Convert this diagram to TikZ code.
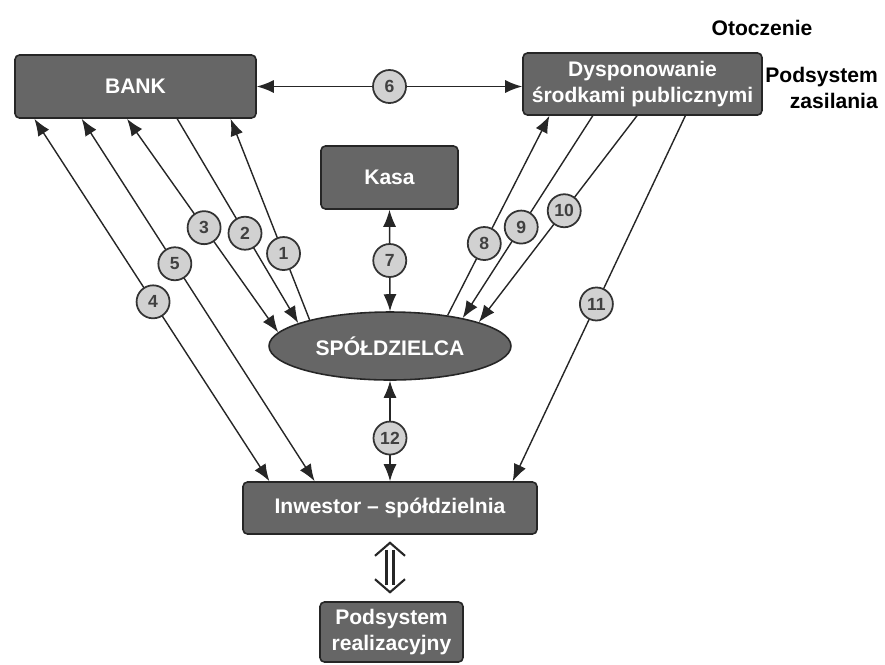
\documentclass[tikz,border=0pt]{standalone}
\usepackage{fontspec}
\setmainfont{Liberation Sans}
\usetikzlibrary{calc}
\usetikzlibrary{arrows.meta}
\usetikzlibrary{shapes.geometric}
\def\thickness{thick}
\newcommand{\boxfont}{\fontsize{12}{14.5}\selectfont\bfseries}
\newcommand{\numfont}{\fontsize{10}{12}\selectfont\bfseries}
\tikzset{
box/.style={draw=black!85, fill=black!60, rounded corners=2.5pt, line width=0.9pt,
	text=white, font=\boxfont, align=center, inner sep=0pt},
num/.style={circle, draw=black!80, fill=black!18, line width=1pt,
	minimum size=0.66cm, inner sep=0pt, font=\numfont, text=black!75},
onearrow/.style={\thickness, draw=black!85, -{Latex[length=0.34cm,width=0.26cm]}},
twoarrow/.style={\thickness, draw=black!85, {Latex[length=0.34cm,width=0.26cm]}-{Latex[length=0.34cm,width=0.26cm]}},
hollowline/.style={draw=black!85, line width=1.2pt},
}

\begin{document}
\begin{tikzpicture}[x=0.02cm, y=-0.02cm]
\useasboundingbox (0,0) rectangle (885,664);
%Place the nodes
\node[box, minimum width=4.82cm, minimum height=1.26cm] (bank) at (135.5,86.5) {BANK};
\node[box, minimum width=4.78cm, minimum height=1.24cm] (dysp) at (642.5,84) {Dysponowanie\\środkami publicznymi};
\node[box, minimum width=2.74cm, minimum height=1.26cm] (kasa) at (389.5,177.5) {Kasa};
\node[box, ellipse, rounded corners=0pt, minimum width=4.84cm, minimum height=1.36cm] (spol) at (390,346) {SPÓŁDZIELCA};
\node[box, minimum width=5.88cm, minimum height=1.04cm] (inw) at (390,508) {Inwestor -- spółdzielnia};
\node[box, minimum width=2.86cm, minimum height=1.2cm] (podreal) at (391.5,632) {Podsystem\\realizacyjny};

\node[font=\boxfont] (otocz) at (762,28) {Otoczenie};
\node[font=\boxfont, align=right, anchor=east] (zasil) at (884,88) {Podsystem\\zasilania};

%
\draw[twoarrow] (bank.east) -- node[num] {6} (bank.east -| dysp.west);
\draw[twoarrow] (kasa.south) -- node[num] {7} (spol.north);
\draw[twoarrow] (spol.south) -- node[num, pos=0.57] {12} (inw.north);

% hollow double arrow
\coordinate (ha) at ($(inw.south)+(0,8)$);
\coordinate (hb) at ($(inw.south |- podreal.north)+(0,-9)$);
\draw[hollowline, line join=miter] ($(ha)+(-15,13)$) -- (ha) -- ($(ha)+(15,13)$);
\draw[hollowline, line join=miter] ($(hb)+(-15,-13)$) -- (hb) -- ($(hb)+(15,-13)$);
\draw[hollowline] ($(ha)+(-3.5,7)$) -- ($(hb)+(-3.5,-7)$);
\draw[hollowline] ($(ha)+(3.5,7)$) -- ($(hb)+(3.5,-7)$);

%
\draw[onearrow] (spol.162) -- node[num, pos=0.33] {1} ($(bank.south west)!0.892!(bank.south east)$);
\draw[onearrow] ($(bank.south west)!0.672!(bank.south east)$) -- node[num, pos=0.56] {2} (spol.166);
\draw[twoarrow] ($(bank.south west)!0.465!(bank.south east)$) -- node[num, pos=0.51] {3} (spol.173);
\draw[twoarrow] ($(bank.south west)!0.083!(bank.south east)$) -- node[num, pos=0.505] {4} ($(inw.north west)!0.092!(inw.north east)$);
\draw[twoarrow] ($(bank.south west)!0.278!(bank.south east)$) -- node[num, pos=0.40] {5} ($(inw.north west)!0.245!(inw.north east)$);

%
\draw[onearrow] (spol.28) -- node[num, pos=0.36] {8} ($(dysp.south west)!0.113!(dysp.south east)$);
\draw[onearrow] ($(dysp.south west)!0.293!(dysp.south east)$) -- node[num, pos=0.55] {9} (spol.21);
\draw[onearrow] ($(dysp.south west)!0.477!(dysp.south east)$) -- node[num, pos=0.46] {10} (spol.15);
\draw[onearrow] ($(dysp.south west)!0.678!(dysp.south east)$) -- node[num, pos=0.515] {11} ($(inw.north west)!0.915!(inw.north east)$);

\end{tikzpicture}
\end{document}
